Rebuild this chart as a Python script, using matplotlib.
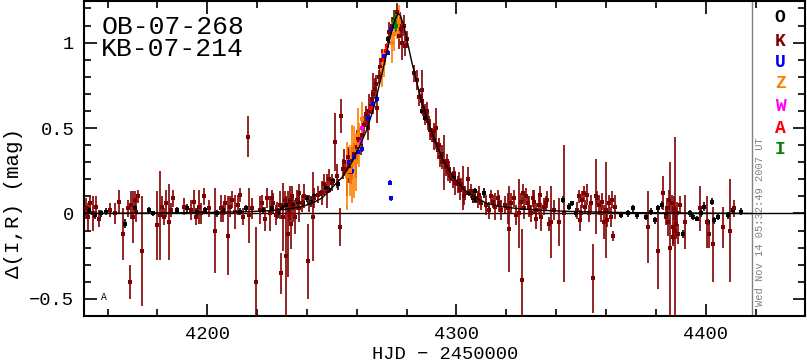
import numpy as np
import matplotlib
matplotlib.use("Agg")
import matplotlib.pyplot as plt
from matplotlib.ticker import MultipleLocator

plt.rcParams['font.family'] = ['Liberation Mono', 'DejaVu Sans Mono']

# ---- OGLE (O, black) ----
o_hjd = [4152.5, 4155.0, 4157.5, 4159.5, 4166.8, 4171.0, 4176.8, 4178.4, 4188.0, 4192.0,
         4196.0, 4199.0, 4204.0, 4206.3, 4213.0, 4215.5, 4222.5, 4226.0, 4228.5, 4230.0,
         4231.5, 4233.0, 4234.5, 4236.5, 4238.5, 4240.0, 4241.5, 4243.0, 4245.5, 4247.5,
         4249.0, 4250.5, 4252.5, 4271.0, 4272.5, 4273.5, 4274.5, 4286.0, 4287.5, 4291.0,
         4292.6, 4296.6, 4298.0, 4299.0, 4305.0, 4306.5, 4307.5, 4308.0, 4311.0, 4312.0,
         4313.0, 4342.7, 4345.0, 4346.5, 4348.0, 4366.0, 4368.7, 4370.7, 4372.5, 4376.0,
         4378.0, 4379.5, 4381.0, 4382.5, 4384.0, 4391.0, 4393.5, 4395.0, 4396.5, 4398.0,
         4399.5, 4401.0, 4402.4, 4403.5, 4405.0, 4409.0, 4411.0, 4414.0]
o_mag = [0.02, -0.01, 0.00, 0.01, -0.06, 0.03, 0.02, 0.00, 0.02, 0.03,
         0.01, 0.02, 0.00, 0.02, 0.01, 0.03, 0.02, 0.03, 0.00, 0.04,
         0.05, 0.07, 0.05, 0.07, 0.06, 0.09, 0.07, 0.10, 0.12, 0.15,
         0.14, 0.19, 0.17, 0.90, 1.02, 1.06, 1.10, 0.60, 0.56, 0.43,
         0.40, 0.25, 0.21, 0.22, 0.12, 0.09, 0.13, 0.08, 0.12, 0.05,
         0.02, 0.08, 0.04, 0.06, 0.00, -0.01, 0.00, 0.03, -0.01, -0.02,
         0.01, -0.04, 0.03, 0.05, -0.01, -0.12, 0.00, -0.02, -0.03, 0.00,
         0.04, -0.05, 0.07, -0.04, -0.02, -0.01, 0.02, 0.01]
o_err = [0.02, 0.02, 0.02, 0.02, 0.025, 0.02, 0.02, 0.015, 0.02, 0.025,
         0.02, 0.02, 0.02, 0.025, 0.02, 0.02, 0.02, 0.02, 0.025, 0.02,
         0.03, 0.02, 0.02, 0.025, 0.02, 0.02, 0.03, 0.02, 0.02, 0.025,
         0.02, 0.02, 0.03, 0.02, 0.02, 0.025, 0.02, 0.02, 0.02, 0.02,
         0.02, 0.025, 0.02, 0.02, 0.02, 0.03, 0.02, 0.02, 0.03, 0.02,
         0.025, 0.02, 0.02, 0.015, 0.02, 0.015, 0.02, 0.02, 0.02, 0.02,
         0.02, 0.02, 0.02, 0.025, 0.02, 0.025, 0.02, 0.02, 0.015, 0.02,
         0.025, 0.02, 0.02, 0.02, 0.02, 0.02, 0.025, 0.02]

# ---- K (dark red) ----
k_hjd = [4151.5, 4152.3, 4153.0, 4154.0, 4155.5, 4156.5, 4161.0, 4163.0, 4164.7, 4166.0,
         4168.0, 4168.8, 4169.5, 4170.2, 4170.8, 4171.5, 4172.2, 4174.0, 4180.0, 4181.0,
         4182.0, 4182.8, 4183.6, 4184.8, 4185.5, 4186.3, 4190.5, 4193.5, 4194.5, 4195.5,
         4196.5, 4197.5, 4198.5, 4200.5, 4203.0, 4205.5, 4206.5, 4207.2, 4208.5, 4209.3,
         4210.0, 4211.0, 4212.3, 4213.2, 4214.2, 4216.5, 4216.9, 4218.0, 4219.6, 4221.0,
         4222.0, 4223.0, 4224.0, 4225.0, 4226.5, 4228.0, 4229.7, 4230.5, 4231.5, 4232.3,
         4233.0, 4233.7, 4234.5, 4236.0, 4237.0, 4238.0, 4240.5, 4242.5, 4243.0, 4244.5,
         4246.0, 4247.0, 4248.0, 4249.0, 4250.0, 4251.3, 4252.0, 4253.3, 4253.7, 4254.3,
         4255.0, 4256.0, 4257.0, 4258.0, 4259.0, 4260.0, 4261.0, 4262.0, 4263.0, 4264.0,
         4265.0, 4266.0, 4266.5, 4267.2, 4268.0, 4268.8, 4269.5, 4270.2, 4273.0, 4274.0,
         4275.0, 4275.8, 4276.3, 4276.8, 4277.3, 4277.8, 4278.3, 4278.8, 4279.4, 4280.0,
         4283.0, 4284.0, 4285.0, 4286.0, 4286.6, 4287.3, 4288.6, 4289.5, 4290.3, 4291.0,
         4291.8, 4292.6, 4293.5, 4294.3, 4295.0, 4295.8, 4296.6, 4297.5, 4298.5, 4299.5,
         4300.5, 4301.5, 4302.6, 4303.5, 4304.6, 4307.0, 4308.5, 4310.0, 4312.0, 4313.2,
         4314.6, 4315.5, 4316.5, 4318.0, 4319.5, 4320.5, 4321.0, 4322.0, 4325.0, 4325.8,
         4326.3, 4327.0, 4328.0, 4329.0, 4330.0, 4331.0, 4332.0, 4333.0, 4334.0, 4335.0,
         4336.5, 4337.2, 4338.0, 4339.0, 4341.0, 4343.0, 4348.5, 4349.5, 4350.5, 4351.5,
         4352.5, 4353.3, 4354.7, 4356.0, 4357.0, 4358.0, 4359.0, 4360.0, 4361.0, 4362.0,
         4363.0, 4363.5, 4376.7, 4380.7, 4382.8, 4384.5, 4385.0, 4385.6, 4386.3, 4387.0,
         4387.8, 4388.5, 4389.0, 4391.6, 4397.6, 4400.5, 4401.5, 4403.0, 4406.8, 4409.6,
         4411.5,
         4226.0, 4227.5, 4229.0, 4231.0, 4232.8, 4234.0, 4235.2, 4236.8, 4239.0, 4241.0,
         4255.5, 4256.5, 4257.5, 4259.5, 4260.5, 4261.5, 4263.5, 4264.5, 4265.5, 4267.8,
         4286.3, 4288.0, 4289.0, 4290.8, 4293.0, 4294.0, 4296.0, 4297.0, 4299.0, 4301.0,
         4302.0, 4303.0, 4306.0, 4309.0, 4314.0, 4317.0, 4323.0, 4324.0, 4326.8, 4328.5,
         4330.5, 4331.8, 4333.5, 4335.8, 4349.0, 4350.0, 4351.0, 4354.0, 4356.5, 4358.5,
         4360.5, 4362.5, 4384.0, 4385.3, 4386.8, 4387.4, 4388.2, 4389.5]
k_mag = [0.03, -0.02, 0.06, 0.00, 0.04, -0.03, 0.02, 0.00, 0.07, -0.12,
         0.03, -0.40, 0.05, -0.02, 0.08, 0.01, 0.10, -0.22, -0.07, -0.01,
         0.04, -0.02, 0.06, -0.05, 0.02, 0.09, 0.04, 0.02, 0.07, -0.02,
         0.04, 0.00, 0.10, 0.03, -0.10, 0.03, 0.00, 0.06, -0.13, 0.04,
         0.08, 0.01, 0.05, 0.11, -0.02, 0.45, -0.01, 0.03, -0.40, 0.02,
         0.06, -0.03, 0.09, 0.00, 0.06, 0.02, -0.35, -0.02, -0.25, -0.12,
         0.06, -0.06, 0.03, 0.08, 0.03, 0.06, -0.28, -0.02, 0.09, 0.11,
         0.12, 0.17, 0.13, 0.20, 0.18, 0.42, 0.22, -0.08, 0.57, 0.26,
         0.30, 0.22, 0.28, 0.31, 0.35, 0.39, 0.43, 0.46, 0.52, 0.55,
         0.60, 0.67, 0.70, 0.73, 0.62, 0.80, 0.86, 0.90, 1.06, 1.10,
         1.14, 1.10, 1.18, 1.04, 1.12, 1.08, 1.00, 1.10, 0.98, 1.02,
         0.82, 0.78, 0.68, 0.72, 0.62, 0.58, 0.54, 0.49, 0.46, 0.43,
         0.50, 0.37, 0.33, 0.30, 0.30, 0.27, 0.25, 0.22, 0.20, 0.18,
         0.17, 0.14, 0.15, 0.12, 0.20, 0.10, 0.08, 0.06, 0.05, 0.02,
         0.07, 0.04, 0.09, 0.02, 0.05, 0.03, -0.09, 0.06, 0.00, 0.07,
         -0.39, 0.03, 0.10, 0.04, 0.00, 0.07, 0.02, 0.05, -0.02, 0.04,
         0.08, -0.06, -0.05, 0.02, -0.05, 0.00, 0.02, -0.04, 0.08, 0.04,
         0.11, 0.00, -0.38, 0.10, 0.05, 0.00, -0.05, 0.02, 0.06, -0.02,
         -0.13, 0.04, -0.08, -0.22, 0.12, 0.03, -0.05, -0.20, 0.06, -0.08,
         -0.10, 0.00, -0.12, -0.05, 0.03, -0.05, -0.12, -0.18, -0.08, -0.10,
         0.03,
         0.09, -0.01, 0.05, 0.08, 0.02, 0.10, -0.02, 0.12, 0.10, 0.06,
         0.26, 0.33, 0.24, 0.30, 0.44, 0.40, 0.58, 0.50, 0.63, 0.76,
         0.66, 0.60, 0.53, 0.48, 0.40, 0.35, 0.31, 0.26, 0.23, 0.19,
         0.17, 0.10, 0.13, 0.11, 0.10, 0.06, 0.09, -0.01, 0.12, 0.06,
         0.09, -0.03, 0.11, 0.06, 0.10, 0.00, 0.12, 0.06, 0.09, 0.07,
         -0.04, 0.08, -0.02, 0.08, -0.14, 0.03, -0.06, 0.05]
k_err = [0.06, 0.08, 0.05, 0.10, 0.06, 0.05, 0.04, 0.06, 0.07, 0.15,
         0.05, 0.10, 0.08, 0.15, 0.05, 0.06, 0.04, 0.32, 0.20, 0.26,
         0.06, 0.05, 0.08, 0.22, 0.04, 0.05, 0.05, 0.06, 0.07, 0.05,
         0.10, 0.06, 0.05, 0.05, 0.25, 0.08, 0.05, 0.05, 0.23, 0.06,
         0.05, 0.10, 0.06, 0.04, 0.05, 0.12, 0.16, 0.06, 0.32, 0.08,
         0.05, 0.07, 0.06, 0.10, 0.06, 0.05, 0.12, 0.20, 0.35, 0.25,
         0.10, 0.15, 0.08, 0.06, 0.08, 0.05, 0.22, 0.26, 0.06, 0.05,
         0.07, 0.06, 0.10, 0.06, 0.05, 0.17, 0.07, 0.11, 0.10, 0.06,
         0.08, 0.12, 0.10, 0.08, 0.06, 0.10, 0.07, 0.08, 0.05, 0.06,
         0.10, 0.05, 0.12, 0.06, 0.09, 0.04, 0.05, 0.06, 0.06, 0.05,
         0.05, 0.04, 0.05, 0.08, 0.06, 0.05, 0.10, 0.06, 0.06, 0.05,
         0.05, 0.06, 0.05, 0.12, 0.05, 0.06, 0.05, 0.06, 0.04, 0.06,
         0.12, 0.05, 0.06, 0.04, 0.16, 0.05, 0.06, 0.04, 0.05, 0.07,
         0.05, 0.06, 0.13, 0.04, 0.07, 0.04, 0.05, 0.04, 0.06, 0.05,
         0.04, 0.08, 0.05, 0.06, 0.05, 0.09, 0.25, 0.06, 0.20, 0.05,
         0.30, 0.06, 0.05, 0.06, 0.05, 0.07, 0.04, 0.06, 0.08, 0.05,
         0.05, 0.04, 0.21, 0.06, 0.14, 0.40, 0.05, 0.06, 0.05, 0.04,
         0.06, 0.05, 0.20, 0.22, 0.06, 0.05, 0.10, 0.28, 0.05, 0.06,
         0.03, 0.07, 0.21, 0.22, 0.10, 0.06, 0.08, 0.50, 0.05, 0.10,
         0.55, 0.07, 0.06, 0.16, 0.13, 0.15, 0.08, 0.22, 0.12, 0.30,
         0.05,
         0.05, 0.06, 0.08, 0.05, 0.07, 0.06, 0.10, 0.05, 0.07, 0.05,
         0.05, 0.06, 0.07, 0.09, 0.05, 0.06, 0.05, 0.07, 0.05, 0.05,
         0.04, 0.05, 0.04, 0.05, 0.04, 0.05, 0.04, 0.05, 0.04, 0.05,
         0.04, 0.05, 0.04, 0.05, 0.04, 0.05, 0.05, 0.06, 0.05, 0.04,
         0.05, 0.06, 0.05, 0.04, 0.04, 0.05, 0.04, 0.05, 0.04, 0.05,
         0.04, 0.05, 0.05, 0.06, 0.05, 0.07, 0.09, 0.05]

# ---- U (blue) ----
u_hjd = [4257.0, 4258.0, 4259.0, 4260.5, 4262.0, 4264.5, 4266.5, 4268.0, 4271.0, 4272.5,
         4273.7, 4275.0, 4273.5, 4273.8]
u_mag = [0.30, 0.25, 0.33, 0.36, 0.38, 0.56, 0.64, 0.67, 0.92, 0.94,
         1.08, 1.10, 0.18, 0.088]
u_err = [0.03, 0.05, 0.02, 0.03, 0.02, 0.02, 0.02, 0.02, 0.015, 0.015,
         0.02, 0.02, 0.015, 0.015]

# ---- Z (orange) ----
z_hjd = [4256.0, 4257.2, 4258.0, 4258.8, 4259.6, 4260.3, 4261.0, 4262.0, 4270.2, 4271.0,
         4274.0, 4275.0, 4276.0, 4277.0]
z_mag = [0.22, 0.25, 0.29, 0.30, 0.30, 0.46, 0.40, 0.55, 0.84, 0.88,
         1.00, 1.05, 1.10, 1.12]
z_err = [0.20, 0.15, 0.23, 0.21, 0.17, 0.16, 0.13, 0.10, 0.10, 0.08,
         0.12, 0.10, 0.08, 0.10]

# ---- W (magenta), A (red), I (green) ----
w_hjd = [4261.5, 4262.0]
w_mag = [0.42, 0.50]
w_err = [0.02, 0.02]

a_hjd = [4265.7, 4271.0, 4271.6, 4272.2]
a_mag = [0.62, 0.90, 0.95, 0.98]
a_err = [0.02, 0.02, 0.02, 0.02]

i_hjd = [4274.8, 4275.3, 4275.8]
i_mag = [1.12, 1.15, 1.10]
i_err = [0.04, 0.03, 0.03]

# ---- model curve ----
model_hjd = [4150, 4180, 4200, 4215, 4225, 4232, 4238, 4242, 4246, 4250,
             4254, 4258, 4261, 4264, 4267, 4270, 4272, 4274, 4275.5, 4276.5,
             4277.5, 4279, 4280.5, 4282, 4284, 4286, 4289, 4292, 4295, 4299,
             4303, 4307, 4312, 4318, 4325, 4335, 4350, 4370, 4400, 4418.5]
model_mag = [0.0, 0.003, 0.006, 0.01, 0.016, 0.025, 0.04, 0.06, 0.09, 0.15,
             0.21, 0.30, 0.39, 0.49, 0.63, 0.81, 0.94, 1.07, 1.14, 1.17,
             1.16, 1.09, 0.99, 0.89, 0.77, 0.66, 0.52, 0.40, 0.30, 0.21,
             0.14, 0.10, 0.06, 0.04, 0.028, 0.018, 0.01, 0.005, 0.002, 0.0]

datasets = [
    ('O', o_hjd, o_mag, o_err, 'black'),
    ('K', k_hjd, k_mag, k_err, '#800000'),
    ('U', u_hjd, u_mag, u_err, 'blue'),
    ('Z', z_hjd, z_mag, z_err, '#ff8000'),
    ('W', w_hjd, w_mag, w_err, 'magenta'),
    ('A', a_hjd, a_mag, a_err, 'red'),
    ('I', i_hjd, i_mag, i_err, 'green'),
]

fig = plt.figure(figsize=(8.07, 3.62), dpi=100)
ax = fig.add_axes([0.104, 0.127, 0.894, 0.871])

for name, t, m, e, col in datasets:
    ax.errorbar(t, m, yerr=e, fmt='s', color=col, ms=2.2, mew=0,
                elinewidth=1.2, capsize=1.6, capthick=1.0, zorder=3)

ax.plot(model_hjd, model_mag, color='black', lw=1.0, zorder=4)
ax.axhline(0, color='black', lw=1.0, zorder=2)
ax.axvline(4418.5, color='gray', lw=1.0, zorder=1)

ax.set_xlim(4150.5, 4440)
ax.set_ylim(-0.6, 1.245)

ax.xaxis.set_major_locator(MultipleLocator(100))
ax.xaxis.set_minor_locator(MultipleLocator(20))
ax.yaxis.set_major_locator(MultipleLocator(0.5))
ax.yaxis.set_minor_locator(MultipleLocator(0.1))
ax.tick_params(which='both', direction='in', top=True, right=True, width=1.2)
ax.tick_params(which='major', length=9, labelsize=13.5, pad=7)
ax.tick_params(which='minor', length=5)
ax.yaxis.set_major_formatter(plt.FuncFormatter(
    lambda v, p: ('%g' % v).replace('-', '\u2212')))
for sp in ax.spines.values():
    sp.set_linewidth(1.5)

ax.set_xlabel('HJD \u2212 2450000', fontsize=13.5, labelpad=2)
ax.set_ylabel('\u0394(I,R) (mag)', fontsize=15)
ax.yaxis.set_label_coords(-0.085, 0.36)

ax.text(0.024, 0.896, 'OB-07-268', transform=ax.transAxes, fontsize=19,
        ha='left', va='baseline')
ax.text(0.024, 0.826, 'KB-07-214', transform=ax.transAxes, fontsize=19,
        ha='left', va='baseline')

ys = [0.946, 0.870, 0.804, 0.737, 0.665, 0.595, 0.528]
for (name, t, m, e, col), y in zip(datasets, ys):
    ax.text(0.965, y, name, transform=ax.transAxes, color=col, fontsize=13,
            fontweight='bold', ha='center', va='center')

ax.text(0.937, 0.30, 'Wed Nov 14 05:32:49 2007 UT', transform=ax.transAxes,
        rotation=90, color='gray', fontsize=7.5, ha='center', va='center')
ax.text(0.028, 0.06, 'A', transform=ax.transAxes, fontsize=7,
        ha='center', va='center')

fig.savefig('out.png', dpi=100)
